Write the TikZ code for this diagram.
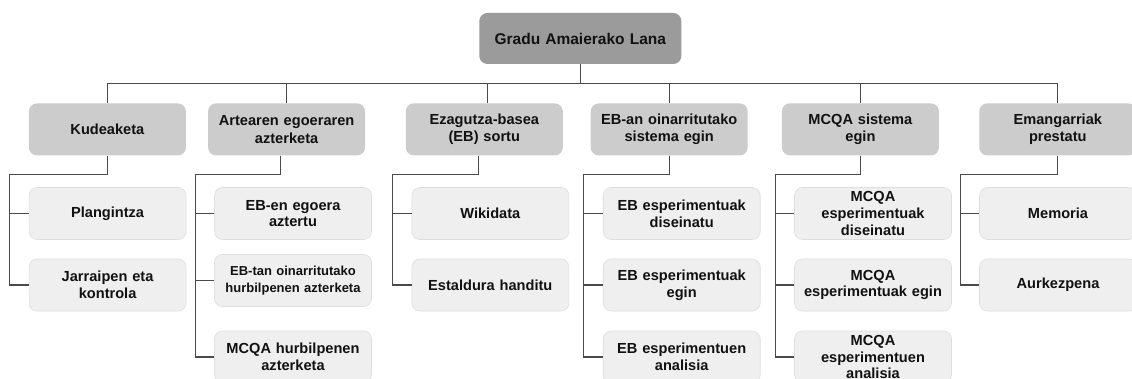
\documentclass[tikz,border=0pt]{standalone}
\usepackage{fontspec}
\setmainfont{Liberation Sans}
\definecolor{rootgray}{HTML}{9B9B9B}
\definecolor{phasegray}{HTML}{CCCCCC}
\definecolor{taskgray}{HTML}{EFEFEF}
\definecolor{taskedge}{HTML}{DEDEDE}
\definecolor{linkgray}{HTML}{4A4A4A}
\definecolor{txt}{HTML}{111111}

\begin{document}
\begin{tikzpicture}[x=1pt,y=-1pt,
  box/.style={rounded corners=8pt, minimum width=157pt, minimum height=52pt,
    inner xsep=2pt, inner ysep=0pt, align=center, text width=153pt, text=txt,
    font=\bfseries\fontsize{14.6}{16.7}\selectfont},
  rootbox/.style={box, fill=rootgray, minimum width=202pt, minimum height=51pt,
    text width=196pt, font=\bfseries\fontsize{15.5}{18}\selectfont},
  phase/.style={box, fill=phasegray, font=\bfseries\fontsize{14.6}{17.5}\selectfont},
  task/.style={box, fill=taskgray, draw=taskedge, line width=0.6pt},
  small/.style={font=\bfseries\fontsize{13}{16.7}\selectfont},
  link/.style={draw=linkgray, line width=1.1pt}
]
% page area
\path[use as bounding box, clip] (0,0) rectangle (1132,379);
\fill[white] (0,0) rectangle (1132,379);

% root
\node[rootbox] (root) at (580.3,38.5) {Gradu Amaierako Lana};

% work packages
\node[phase] (pa) at (107.4,129.4) {Kudeaketa};
\node[phase] (pb) at (286.6,129.4) {Artearen egoeraren\\azterketa};
\node[phase] (pc) at (484.3,129.4) {Ezagutza-basea\\(EB) sortu};
\node[phase] (pd) at (669.2,129.4) {EB-an oinarritutako\\sistema egin};
\node[phase] (pe) at (860.4,129.4) {MCQA sistema\\egin};
\node[phase] (pf) at (1057.8,129.4) {Emangarriak\\prestatu};

% tasks
\node[task] (a1) at (107.6,213.5) {Plangintza};
\node[task] (a2) at (107.6,285) {Jarraipen eta\\kontrola};

\node[task] (b1) at (293,213.5) {EB-en egoera\\aztertu};
\node[task,small] (b2) at (293,280.5) {EB-tan oinarritutako\\hurbilpenen azterketa};
\node[task] (b3) at (293,357) {MCQA hurbilpenen\\azterketa};

\node[task] (c1) at (490.3,213.5) {Wikidata};
\node[task] (c2) at (490.3,285) {Estaldura handitu};

\node[task] (d1) at (681.7,213.5) {EB esperimentuak\\diseinatu};
\node[task] (d2) at (681.7,285) {EB esperimentuak\\egin};
\node[task] (d3) at (681.7,357) {EB esperimentuen\\analisia};

\node[task] (e1) at (873,213.5) {MCQA\\esperimentuak\\diseinatu};
\node[task] (e2) at (873,285) {MCQA\\esperimentuak egin};
\node[task] (e3) at (873,357) {MCQA\\esperimentuen\\analisia};

\node[task] (f1) at (1058,213.5) {Memoria};
\node[task] (f2) at (1058,285) {Aurkezpena};

% root to work packages
\foreach \p in {pa,pb,pd,pe,pf}
  \draw[link] (root.south) -- ++(0,19.5) -| (\p.north);
\draw[link] (root.south) -- ++(0,19.5) -| ([xshift=3pt]pc.north);

% work packages to tasks
\foreach \t in {a1,a2}
  \draw[link] (pa.south) -- ++(0,19) -| ([xshift=-19pt]\t.west) -- (\t.west);
\foreach \t in {b1,b2,b3}
  \draw[link] ([xshift=-6pt]pb.south) -- ++(0,19) -| ([xshift=-19pt]\t.west) -- (\t.west);
\foreach \t in {c1,c2}
  \draw[link] ([xshift=-6pt]pc.south) -- ++(0,19) -| ([xshift=-19pt]\t.west) -- (\t.west);
\foreach \t in {d1,d2,d3}
  \draw[link] (pd.south) -- ++(0,19) -| ([xshift=-19pt]\t.west) -- (\t.west);
\foreach \t in {e1,e2,e3}
  \draw[link] (pe.south) -- ++(0,19) -| ([xshift=-19pt]\t.west) -- (\t.west);
\foreach \t in {f1,f2}
  \draw[link] (pf.south) -- ++(0,19) -| ([xshift=-19pt]\t.west) -- (\t.west);
\end{tikzpicture}
\end{document}
